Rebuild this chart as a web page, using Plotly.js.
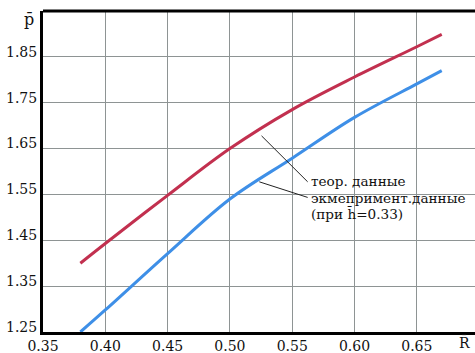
<!DOCTYPE html>
<html>
<head>
<meta charset="utf-8">
<script src="https://cdn.plot.ly/plotly-3.0.1.min.js"></script>
<style>html,body{margin:0;padding:0;background:#fff}#chart{width:475px;height:353px}</style>
</head>
<body>
<div id="chart"></div>
<script>
// Data
const rValues = [0.38, 0.40, 0.45, 0.50, 0.55, 0.60, 0.65, 0.67];
const theoryP = [1.40, 1.443, 1.548, 1.65, 1.735, 1.806, 1.872, 1.899];
const experimentP = [1.25, 1.298, 1.421, 1.54, 1.629, 1.718, 1.791, 1.82];
const xTicks = [0.35, 0.40, 0.45, 0.50, 0.55, 0.60, 0.65];
const yTicks = [1.25, 1.35, 1.45, 1.55, 1.65, 1.75, 1.85];
const labelTheory = "теор. данные";
const labelExperiment = "экмепримент.данные";
const labelNote = "(при h̄=0.33)";

const serif = "DejaVu Serif";

const traces = [
  {x: rValues, y: theoryP, mode: "lines", line: {color: "#c2304f", width: 3, shape: "spline", smoothing: 1}, hoverinfo: "skip"},
  {x: rValues, y: experimentP, mode: "lines", line: {color: "#3e8fe7", width: 3, shape: "spline", smoothing: 1}, hoverinfo: "skip"}
];

const layout = {
  width: 475, height: 353,
  margin: {l: 43, r: 0, t: 11, b: 21, pad: 0},
  paper_bgcolor: "#fff", plot_bgcolor: "#fff",
  showlegend: false,
  font: {family: serif, size: 14, color: "#111"},
  xaxis: {
    range: [0.35, 0.6967], tickvals: xTicks, ticktext: xTicks.map(v => v.toFixed(2)),
    showgrid: true, gridcolor: "#8e9494", gridwidth: 1, zeroline: false,
    showline: true, linecolor: "#000", linewidth: 3, ticks: "", ticklabelstandoff: -1,
    tickfont: {family: serif, size: 14, color: "#111"}
  },
  yaxis: {
    range: [1.25, 1.95], tickvals: yTicks, ticktext: yTicks.map(v => v.toFixed(2)),
    showgrid: true, gridcolor: "#8e9494", gridwidth: 1, zeroline: false,
    showline: true, linecolor: "#000", linewidth: 3, ticks: "", ticklabelstandoff: 0,
    ticklabelshift: -5,
    tickfont: {family: serif, size: 14, color: "#111"}
  },
  shapes: [
    {type: "line", xref: "paper", yref: "paper", x0: 0, x1: 1, y0: 1, y1: 1, line: {color: "#000", width: 3}},
    {type: "line", xref: "x", yref: "y", x0: 0.5254, y0: 1.6777, x1: 0.5624, y1: 1.5775, line: {color: "#222", width: 1}},
    {type: "line", xref: "x", yref: "y", x0: 0.5236, y0: 1.5775, x1: 0.5624, y1: 1.5435, line: {color: "#222", width: 1}}
  ],
  annotations: [
    {xref: "x", yref: "y", x: 0.5637, y: 1.579, xanchor: "left", yanchor: "middle", text: labelTheory, showarrow: false, font: {family: serif, size: 13.6, color: "#111"}},
    {xref: "x", yref: "y", x: 0.5637, y: 1.542, xanchor: "left", yanchor: "middle", text: labelExperiment, showarrow: false, font: {family: serif, size: 13.6, color: "#111"}},
    {xref: "x", yref: "y", x: 0.5637, y: 1.507, xanchor: "left", yanchor: "middle", text: labelNote, showarrow: false, font: {family: serif, size: 13.6, color: "#111"}},
    {xref: "paper", yref: "paper", x: (29 - 43) / 432, y: (332 - 19) / 321, xanchor: "center", yanchor: "middle", text: "p̄", showarrow: false, font: {family: serif, size: 16, color: "#111"}},
    {xref: "paper", yref: "paper", x: (464 - 43) / 432, y: (332 - 343) / 321, xanchor: "center", yanchor: "middle", text: "R̄", showarrow: false, font: {family: serif, size: 14, color: "#111"}}
  ]
};

Plotly.newPlot("chart", traces, layout, {staticPlot: true, displayModeBar: false});
</script>
</body>
</html>
